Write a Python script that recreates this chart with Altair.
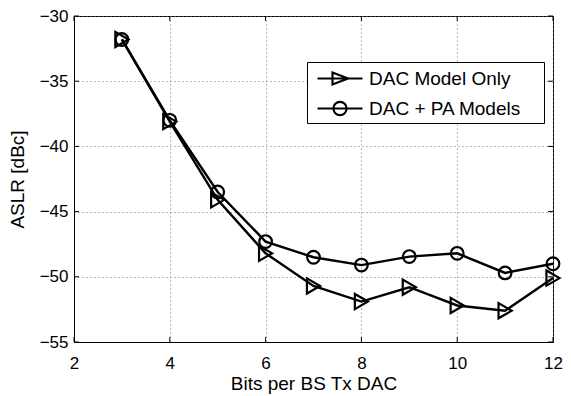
import altair as alt
import pandas as pd

bits = [3, 4, 5, 6, 7, 8, 9, 10, 11, 12]
dac_only = [-31.8, -38.1, -44.1, -48.2, -50.7, -51.9, -50.8, -52.2, -52.6, -50.1]
dac_pa = [-31.8, -38.0, -43.5, -47.3, -48.5, -49.1, -48.45, -48.2, -49.7, -49.0]
series_names = ["DAC Model Only", "DAC + PA Models"]
x_ticks = [2, 4, 6, 8, 10, 12]
y_ticks = [-55, -50, -45, -40, -35, -30]

rows = []
for b, v in zip(bits, dac_only):
    rows.append({"bits": b, "aslr": v, "series": series_names[0]})
for b, v in zip(bits, dac_pa):
    rows.append({"bits": b, "aslr": v, "series": series_names[1]})
df = pd.DataFrame(rows)
xt = pd.DataFrame({"bits": x_ticks})
yt = pd.DataFrame({"aslr": y_ticks})

FONT = "Liberation Sans"
W, H = 479, 326
TL = 5

xs = alt.Scale(domain=[2, 12], nice=False)
ys = alt.Scale(domain=[-55, -30], nice=False)
x_enc = alt.X("bits:Q", scale=xs, axis=alt.Axis(values=x_ticks, title="Bits per BS Tx DAC"))
y_enc = alt.Y("aslr:Q", scale=ys, axis=alt.Axis(values=y_ticks, title="ASLR [dBc]"))

base = alt.Chart(df)

lines = base.mark_line(color="black", strokeWidth=2.4).encode(
    x=x_enc, y=y_enc, detail="series:N"
)

pts_tri = base.transform_filter(alt.datum.series == series_names[0]).mark_point(
    shape="triangle-right", filled=False, color="black", strokeWidth=2.2, size=230, opacity=1
).encode(x=x_enc, y=y_enc)
pts_circ = base.transform_filter(alt.datum.series == series_names[1]).mark_point(
    shape="circle", filled=False, color="black", strokeWidth=2.2, size=160, opacity=1
).encode(x=x_enc, y=y_enc)

tri_path = "M -0.5,0 L 3.25,0 M 0.75,-0.5 L 2.05,0 L 0.75,0.5 Z M 17.7,0"
circ_path = "M -0.5,0 L 3.25,0 M 1.925,0 A 0.55,0.55 0 1,1 0.825,0 A 0.55,0.55 0 1,1 1.925,0 M 17.7,0"

legend_layer = base.mark_point(filled=False, color="black", strokeWidth=2, opacity=1).encode(
    x=x_enc, y=y_enc,
    shape=alt.Shape("series:N",
                    scale=alt.Scale(domain=series_names, range=[tri_path, circ_path]),
                    legend=alt.Legend(title=None, orient="none", legendX=233, legendY=46,
                                      symbolSize=576, symbolStrokeWidth=2.2,
                                      symbolStrokeColor="black", symbolFillColor="transparent",
                                      labelFontSize=19, labelFont=FONT, labelColor="black",
                                      labelOffset=32, rowPadding=6, padding=3,
                                      strokeColor="black", fillColor="white",
                                      labelLimit=400)),
).transform_filter("false")

tick_style = dict(color="black", strokeWidth=1)
t_left = alt.Chart(yt).mark_rule(**tick_style).encode(
    y=alt.Y("aslr:Q", scale=ys), x=alt.value(0), x2=alt.value(TL))
t_right = alt.Chart(yt).mark_rule(**tick_style).encode(
    y=alt.Y("aslr:Q", scale=ys), x=alt.value(W - TL), x2=alt.value(W))
t_bottom = alt.Chart(xt).mark_rule(**tick_style).encode(
    x=alt.X("bits:Q", scale=xs), y=alt.value(H - TL), y2=alt.value(H))
t_top = alt.Chart(xt).mark_rule(**tick_style).encode(
    x=alt.X("bits:Q", scale=xs), y=alt.value(0), y2=alt.value(TL))

chart = alt.layer(lines, pts_tri, pts_circ, legend_layer, t_left, t_right, t_bottom, t_top).properties(
    width=W, height=H,
    autosize=alt.AutoSizeParams(type="none"),
    padding={"left": 66, "top": 8, "right": 10, "bottom": 54},
).configure_view(stroke="black", strokeWidth=1).configure_axis(
    grid=True, gridColor="#777777", gridDash=[1, 3], gridWidth=1, gridOpacity=1,
    domain=True, domainColor="black", domainWidth=1,
    ticks=False, labelFlush=False,
    labelFont=FONT, labelFontSize=17, labelColor="black",
    titleFont=FONT, titleFontSize=19, titleFontWeight="normal", titleColor="black",
).configure_axisY(labelPadding=6, titlePadding=12).configure_axisX(labelPadding=13, titlePadding=3)

chart.save("out.html", embed_options={"renderer": "svg", "actions": False})
